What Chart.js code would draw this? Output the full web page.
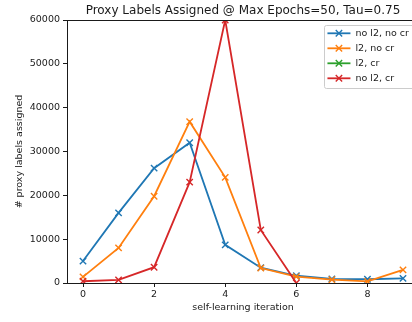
<!DOCTYPE html>
<html><head><meta charset="utf-8">
<script src="https://cdn.jsdelivr.net/npm/chart.js@4"></script>
<style>html,body{margin:0;padding:0;background:#fff;overflow:hidden;width:412px;height:322px}#wrap{width:419px;height:322px;position:relative}canvas{display:block}</style>
</head><body><div id="wrap"><canvas id="c" width="419" height="322"></canvas></div>
<script>
const iterations = [0,1,2,3,4,5,6,7,8,9];
const seriesLabels = ['no l2, no cr','l2, no cr','l2, cr','no l2, cr'];
const noL2NoCr = [5000,16000,26200,32000,8700,3500,1650,950,850,1050];
const l2NoCr   = [1400,8000,19800,36800,24100,3400,1450,750,380,3000];
const l2Cr     = [];
const noL2Cr   = [400,700,3600,23000,60000,12100,0];
const xTicks = [0,2,4,6,8];
const yTicks = [0,10000,20000,30000,40000,50000,60000];
const titleText = 'Proxy Labels Assigned @ Max Epochs=50, Tau=0.75';
const xTitle = 'self-learning iteration';
const yTitle = '# proxy labels assigned';

const colors = ['#1f77b4','#ff7f0e','#2ca02c','#d62728'];
const FONT = 'DejaVu Sans';
const INK = '#1a1a1a';

function pts(vals){ return vals.map((v,i)=>({x:iterations[i], y:v})); }
const allVals = [noL2NoCr,l2NoCr,l2Cr,noL2Cr];

const datasets = allVals.map((vals,i)=>({
  label: seriesLabels[i],
  data: pts(vals),
  borderColor: colors[i],
  backgroundColor: colors[i],
  borderWidth: 1.8,
  pointStyle: 'crossRot',
  pointRadius: 4.5,
  pointHoverRadius: 4.5,
  pointBorderWidth: 1.4,
  tension: 0,
  fill: false,
  clip: 0,
  order: 4 - i
}));

const frameAndLegend = {
  id: 'frameAndLegend',
  afterDraw(chart){
    const ctx = chart.ctx, a = chart.chartArea;
    ctx.save();
    ctx.strokeStyle = INK; ctx.lineWidth = 1;
    ctx.beginPath(); ctx.moveTo(a.left, a.top + 0.5); ctx.lineTo(a.right, a.top + 0.5); ctx.stroke();
    ctx.beginPath(); ctx.moveTo(a.right - 0.5, a.top); ctx.lineTo(a.right - 0.5, a.bottom); ctx.stroke();
    ctx.restore();
    ctx.save();
    ctx.font = '9.5px "' + FONT + '"';
    const ds = chart.data.datasets;
    let tw = 0;
    ds.forEach(d => { tw = Math.max(tw, ctx.measureText(d.label).width); });
    const padL = 3, handle = 23, gap = 5, padR = 5, rowH = 15;
    const right = a.right - 5, top = a.top + 5;
    const w = padL + handle + gap + tw + padR;
    const h = rowH * ds.length + 3;
    const left = right - w;
    ctx.fillStyle = 'rgba(255,255,255,0.8)';
    ctx.strokeStyle = '#cccccc'; ctx.lineWidth = 1;
    ctx.beginPath();
    ctx.roundRect(Math.round(left) + 0.5, top + 0.5, w, h, 2);
    ctx.fill(); ctx.stroke();
    ds.forEach((d,i) => {
      const cy = top + 8.3 + i * rowH;
      const x0 = left + padL, x1 = x0 + handle;
      ctx.strokeStyle = d.borderColor; ctx.lineWidth = 1.8;
      ctx.beginPath(); ctx.moveTo(x0, cy); ctx.lineTo(x1, cy); ctx.stroke();
      const mx = (x0 + x1) / 2, r = 3.2;
      ctx.lineWidth = 1.4;
      ctx.beginPath();
      ctx.moveTo(mx - r, cy - r); ctx.lineTo(mx + r, cy + r);
      ctx.moveTo(mx - r, cy + r); ctx.lineTo(mx + r, cy - r);
      ctx.stroke();
      ctx.fillStyle = INK; ctx.textBaseline = 'middle'; ctx.textAlign = 'left';
      ctx.fillText(d.label, x1 + gap, cy + 0.5);
    });
    ctx.restore();
  }
};

new Chart(document.getElementById('c'), {
  type: 'line',
  data: { datasets },
  options: {
    responsive: false,
    animation: false,
    devicePixelRatio: 1,
    layout: { autoPadding: false, padding: { left: 0, right: 0, top: 0, bottom: 0 } },
    plugins: {
      legend: { display: false },
      tooltip: { enabled: false },
      title: {
        display: true, text: titleText, fullSize: false,
        color: INK, font: { family: FONT, size: 12, weight: 'normal' },
        padding: { top: 3.5, bottom: 2.1 }
      }
    },
    scales: {
      x: {
        type: 'linear', min: -0.45, max: 9.45,
        afterFit: s => { s.height = 39; },
        afterBuildTicks: s => { s.ticks = xTicks.map(v => ({ value: v })); },
        grid: { display: true, drawOnChartArea: false, drawTicks: true, tickLength: 4, color: INK, lineWidth: 1 },
        border: { display: true, color: INK, width: 1 },
        ticks: { color: INK, font: { family: FONT, size: 9.5 }, padding: 2, maxRotation: 0, callback: v => String(v) },
        title: { display: true, text: xTitle, color: INK, font: { family: FONT, size: 9.5 }, padding: { top: 0, bottom: 8.3 } }
      },
      y: {
        type: 'linear', min: 0, max: 60000,
        afterFit: s => { s.width = 67; },
        afterBuildTicks: s => { s.ticks = yTicks.map(v => ({ value: v })); },
        grid: { display: true, drawOnChartArea: false, drawTicks: true, tickLength: 4, color: INK, lineWidth: 1 },
        border: { display: true, color: INK, width: 1 },
        ticks: { color: INK, font: { family: FONT, size: 9.5 }, padding: 3, callback: v => String(v) },
        title: { display: true, text: yTitle, color: INK, font: { family: FONT, size: 9.5 }, padding: { top: 14.3, bottom: 0 } }
      }
    }
  },
  plugins: [frameAndLegend]
});
</script></body></html>
